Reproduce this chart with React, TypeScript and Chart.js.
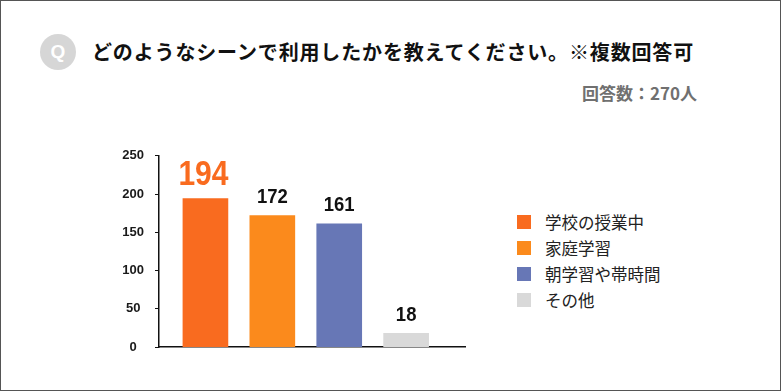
import React, { useEffect, useRef } from "react";
import { Chart, registerables } from "chart.js";

Chart.register(...registerables);

const titleText = "どのようなシーンで利用したかを教えてください。※複数回答可";
const respondentsLabel = "回答数：270人";
const categories = ["学校の授業中", "家庭学習", "朝学習や帯時間", "その他"];
const values = [194, 172, 161, 18];
const barColors = ["#F96B1F", "#FB8A1C", "#6777B6", "#D9D9D9"];
const yMin = 0;
const yMax = 250;
const yStep = 50;

const highlightIndex = values.indexOf(Math.max(...values));
const latin = '"Liberation Sans", Arial, Helvetica, sans-serif';
const jp = '"Noto Sans CJK JP", "Noto Sans", sans-serif';

const valueLabelPlugin = {
  id: "valueLabels",
  afterDatasetsDraw(chart: any) {
    const meta = chart.getDatasetMeta(0);
    const ctx = chart.ctx;
    meta.data.forEach((bar: any, i: number) => {
      const big = i === highlightIndex;
      ctx.save();
      ctx.font = big ? `bold 30px ${latin}` : `bold 18.5px ${latin}`;
      ctx.fillStyle = big ? barColors[i] : "#111111";
      ctx.textAlign = "center";
      ctx.textBaseline = "alphabetic";
      ctx.translate(bar.x - (big ? 2 : 0), bar.y - (big ? 14 : 12.5));
      ctx.scale(1, big ? 1.15 : 1.08);
      ctx.fillText(String(values[i]), 0, 0);
      ctx.restore();
    });
  },
};

export default function App() {
  const canvasRef = useRef<HTMLCanvasElement | null>(null);

  useEffect(() => {
    if (!canvasRef.current) return;
    const chart = new Chart(canvasRef.current, {
      type: "bar",
      data: {
        labels: categories,
        datasets: [
          {
            label: "回答数",
            data: values.map((v, i) => ({ x: i, y: v })) as any,
            backgroundColor: barColors,
            borderWidth: 0,
            barThickness: 45,
          },
        ],
      },
      options: {
        responsive: false,
        animation: false,
        events: [],
        layout: { padding: { top: 0, right: 5, left: 0, bottom: 0 } },
        plugins: {
          legend: { display: false },
          tooltip: { enabled: false },
          title: { display: false },
        },
        scales: {
          x: {
            type: "linear",
            offset: false,
            min: -0.694,
            max: 3.88,
            ticks: { display: false, stepSize: 1, includeBounds: false },
            grid: { display: false, drawTicks: false },
            border: { display: true, color: "#111111", width: 1.5 },
            afterFit: (s: any) => {
              s.height = 5;
            },
          },
          y: {
            min: yMin,
            max: yMax,
            ticks: {
              stepSize: yStep,
              crossAlign: "center",
              padding: 11,
              color: "#1a1a1a",
              font: { family: latin, size: 13, weight: "bold" },
            },
            grid: {
              drawOnChartArea: false,
              drawTicks: true,
              tickLength: 4,
              color: "#111111",
              lineWidth: 1,
            },
            border: { display: true, color: "#111111", width: 1.5 },
            afterFit: (s: any) => {
              s.width = 59;
            },
          },
        },
      },
      plugins: [valueLabelPlugin],
    } as any);
    return () => chart.destroy();
  }, []);

  return (
    <div
      style={{
        position: "absolute",
        left: 0,
        top: 0,
        width: 781,
        height: 391,
        boxSizing: "border-box",
        border: "1px solid #555555",
        background: "#ffffff",
        overflow: "hidden",
        fontFamily: jp,
      }}
    >
      <div
        style={{
          position: "absolute",
          left: 39,
          top: 33,
          width: 36,
          height: 36,
          borderRadius: "50%",
          background: "#D6D6D6",
          color: "#ffffff",
          fontFamily: latin,
          fontWeight: "bold",
          fontSize: 19,
          lineHeight: "36px",
          textAlign: "center",
        }}
      >
        Q
      </div>
      <div
        style={{
          position: "absolute",
          left: 91,
          top: 37,
          fontSize: 20,
          letterSpacing: 0.85,
          fontWeight: "bold",
          color: "#111111",
          lineHeight: "28px",
          whiteSpace: "nowrap",
        }}
      >
        {titleText}
      </div>
      <div
        style={{
          position: "absolute",
          right: 83,
          top: 80,
          fontSize: 17,
          fontWeight: "bold",
          color: "#707070",
          lineHeight: "24px",
          whiteSpace: "nowrap",
        }}
      >
        {respondentsLabel}
      </div>
      <div style={{ position: "absolute", left: 99, top: 136, width: 370, height: 229 }}>
        <canvas ref={canvasRef} width={370} height={229} style={{ display: "block" }} />
      </div>
      <div style={{ position: "absolute", left: 516, top: 208 }}>
        {categories.map((c, i) => (
          <div
            key={c}
            style={{
              display: "flex",
              alignItems: "center",
              height: 26,
              whiteSpace: "nowrap",
            }}
          >
            <span
              style={{
                display: "inline-block",
                width: 13.5,
                height: 13.5,
                background: barColors[i],
                marginRight: 14.5,
              }}
            />
            <span style={{ fontSize: 16.5, color: "#222222", lineHeight: "26px" }}>{c}</span>
          </div>
        ))}
      </div>
    </div>
  );
}
